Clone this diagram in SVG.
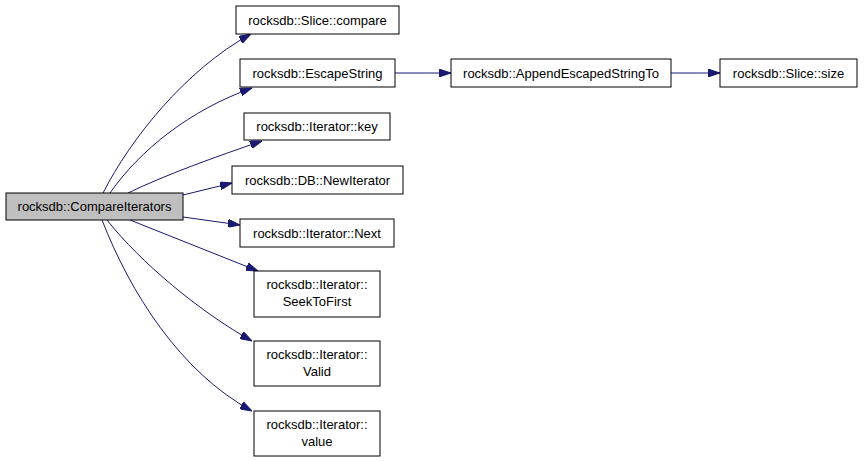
<svg xmlns="http://www.w3.org/2000/svg" width="864" height="461" viewBox="0 0 864 461">
<defs>
<style>
.n rect{fill:#ffffff;stroke:#000000;stroke-width:1}
.n text{font-family:"Liberation Sans",Arial,sans-serif;font-size:13px;fill:#000000;text-anchor:middle}
.e path{fill:none;stroke:#191970;stroke-width:1}
</style>
<marker id="ah" markerWidth="12" markerHeight="8" refX="12" refY="4" orient="auto" markerUnits="userSpaceOnUse">
<path d="M0,0 L12,4 L0,8 z" fill="#191970" stroke="#191970"/>
</marker>
</defs>
<rect width="864" height="461" fill="#ffffff"/>
<g class="e" id="edges">
<path marker-end="url(#ah)" d="M103,193 C130,140 185,70 251,34"/>
<path marker-end="url(#ah)" d="M110,193 C140,150 190,110 252,88"/>
<path marker-end="url(#ah)" d="M128,193 C165,175 215,157 262,141"/>
<path marker-end="url(#ah)" d="M183,195 L232,183"/>
<path marker-end="url(#ah)" d="M183,217 L240,225"/>
<path marker-end="url(#ah)" d="M130,220 L258,271"/>
<path marker-end="url(#ah)" d="M107,220 C140,262 200,312 252,341"/>
<path marker-end="url(#ah)" d="M102,220 C130,292 180,372 252,411"/>
<path marker-end="url(#ah)" d="M395,73 L451,73"/>
<path marker-end="url(#ah)" d="M671,73 L720,73"/>
</g>
<g class="n" id="n_compareiterators"><rect x="6" y="193" width="177" height="27" style="fill:#bfbfbf"/><text x="94.5" y="211">rocksdb::CompareIterators</text></g>
<g class="n" id="n_slice_compare"><rect x="236" y="6" width="163" height="28"/><text x="317.5" y="24.5">rocksdb::Slice::compare</text></g>
<g class="n" id="n_escapestring"><rect x="240" y="59" width="155" height="28"/><text x="317.5" y="77.5">rocksdb::EscapeString</text></g>
<g class="n" id="n_iterator_key"><rect x="244" y="113" width="146" height="27"/><text x="317" y="131">rocksdb::Iterator::key</text></g>
<g class="n" id="n_db_newiterator"><rect x="232" y="166" width="171" height="28"/><text x="317.5" y="184.5">rocksdb::DB::NewIterator</text></g>
<g class="n" id="n_iterator_next"><rect x="240" y="219" width="154" height="28"/><text x="317" y="237.5">rocksdb::Iterator::Next</text></g>
<g class="n" id="n_iterator_seektofirst"><rect x="254" y="271" width="126" height="46"/><text x="317" y="289">rocksdb::Iterator::</text><text x="317" y="306">SeekToFirst</text></g>
<g class="n" id="n_iterator_valid"><rect x="254" y="341" width="126" height="45"/><text x="317" y="359">rocksdb::Iterator::</text><text x="317" y="376">Valid</text></g>
<g class="n" id="n_iterator_value"><rect x="254" y="411" width="126" height="45"/><text x="317" y="429">rocksdb::Iterator::</text><text x="317" y="446">value</text></g>
<g class="n" id="n_appendescapedstringto"><rect x="451" y="59" width="220" height="28"/><text x="561" y="77.5">rocksdb::AppendEscapedStringTo</text></g>
<g class="n" id="n_slice_size"><rect x="720" y="59" width="137" height="28"/><text x="788.5" y="77.5">rocksdb::Slice::size</text></g>
</svg>
